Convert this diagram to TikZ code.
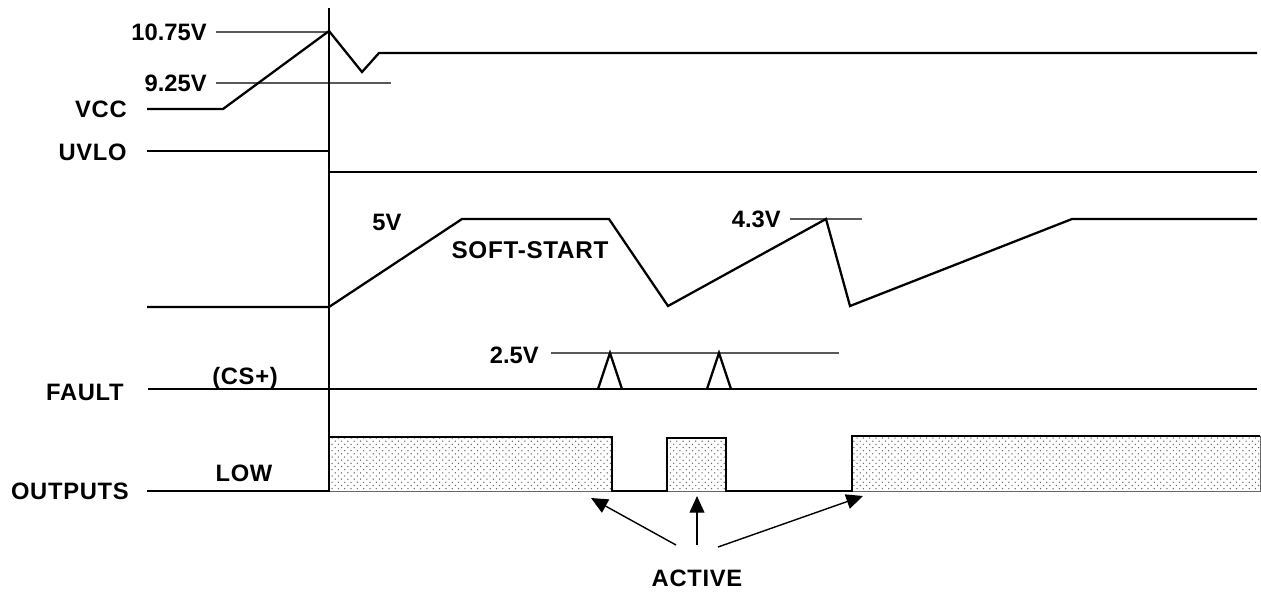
\documentclass[tikz,border=0pt]{standalone}
\usepackage{fontspec}
\setsansfont{Liberation Sans}
\newfontfamily\wordfont{Liberation Sans}[LetterSpace=3]
\usetikzlibrary{arrows.meta,patterns}

% sparse dot fill for the active output periods
\pgfdeclarepatternformonly{sparsedots}{\pgfqpoint{-1pt}{-1pt}}{\pgfqpoint{3pt}{3pt}}{\pgfqpoint{3.6pt}{3.6pt}}{%
    \pgfpathcircle{\pgfqpoint{0pt}{0pt}}{0.42pt}%
    \pgfpathcircle{\pgfqpoint{1.8pt}{1.8pt}}{0.42pt}%
    \pgfusepath{fill}}

\begin{document}
\begin{tikzpicture}[x=0.02cm, y=-0.02cm,
    sig/.style={line width=1.3pt, line join=miter},
    level/.style={line width=0.6pt, black!65},
    num/.style={font=\sffamily\bfseries\fontsize{13.5}{16}\selectfont, inner sep=0pt},
    lbl/.style={font=\wordfont\bfseries\fontsize{13.5}{16}\selectfont, inner sep=0pt},
    hi/.style={pattern=sparsedots, pattern color=black!60, draw=black!60, line width=0.5pt},
    pointer/.style={line width=0.8pt, -{Triangle[length=9.5pt, width=8.5pt]}}]

    \useasboundingbox (0,0) rectangle (1261,593);

    % Signal names
    \node[lbl, anchor=east] (vcc) at (127,109) {VCC};
    \node[lbl, anchor=east] (uvlo) at (127,152) {UVLO};
    \node[lbl, anchor=east] (fault) at (124,392) {FAULT};
    \node[lbl, anchor=east] (outputs) at (129,491) {OUTPUTS};

    % Threshold labels
    \node[num, anchor=east] (vhi) at (207,32) {10.75V};
    \node[num, anchor=east] (vlo) at (207,83) {9.25V};
    \node[num] (vss) at (387,222) {5V};
    \node[lbl, font=\wordfont\bfseries\fontsize{13.8}{16}\selectfont] (ss) at (530,250) {SOFT-START};
    \node[num, anchor=east] (vpk) at (781,219) {4.3V};
    \node[num, anchor=east] (vcs) at (539,355) {2.5V};
    \node[lbl] (cs) at (245,378) {(CS+)};
    \node[lbl] (low) at (244,473) {LOW};
    \node[lbl] (active) at (697,578) {ACTIVE};

    % Reference levels
    \draw[level] (vhi.east) ++(9,0) -- (329,32);
    \draw[level] (vlo.east) ++(9,0) -- (391,83);
    \draw[level] (vpk.east) ++(9,0) -- (862,219);
    \draw[level] (vcs.east) ++(12,-2) -- (839,353);

    % Start-up marker
    \draw[line width=0.6pt] (329,8) -- (329,491);

    % VCC and UVLO
    \draw[sig] (147,109) -- (223,109) -- (329,31) -- (362,72) -- (379,53) -- (1257,53);
    \draw[sig] (147,151) -- (329,151) -- (329,172) -- (1257,172);

    % Soft-start capacitor
    \draw[sig] (147,307) -- (329,307) -- (462,219) -- (609,219) -- (668,306)
        -- (826,219) -- (850,306) -- (1072,219) -- (1257,219);

    % Fault (current sense)
    \draw[sig] (148,389) -- (1257,389);
    \foreach \px in {610,719} {
        \draw[sig] (\px-12,389) -- (\px,353) -- (\px+12,389);
    }

    % Outputs
    \fill[hi] (329,437) rectangle (612,491);
    \fill[hi] (667,438) rectangle (726,491);
    \draw[hi] (852,436) rectangle (1260,491);
    \draw[sig] (147,491) -- (329,491) -- (329,437) -- (612,437) -- (612,491)
        -- (667,491) -- (667,438) -- (726,438) -- (726,491) -- (852,491)
        -- (852,436) -- (1260,436);

    % Pointers to the active periods
    \coordinate (a1) at (591,498);
    \coordinate (a2) at (697,496);
    \coordinate (a3) at (863,496);
    \coordinate (t1) at (676,545);
    \coordinate (t2) at (697,545);
    \coordinate (t3) at (718,547);
    \draw[pointer] (t1) -- (a1);
    \draw[pointer] (t2) -- (a2);
    \draw[pointer] (t3) -- (a3);
\end{tikzpicture}
\end{document}
